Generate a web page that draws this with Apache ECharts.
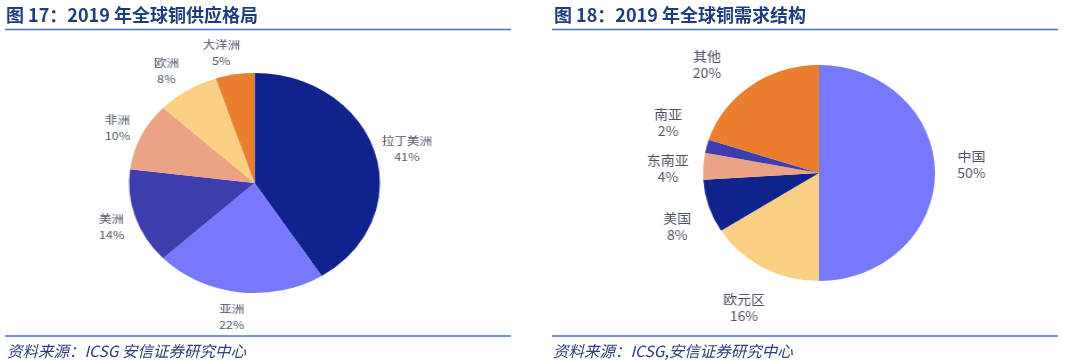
<!DOCTYPE html>
<html>
<head>
<meta charset="utf-8">
<script src="https://cdn.jsdelivr.net/npm/echarts@6/dist/echarts.min.js"></script>
<style>
html,body{margin:0;padding:0;background:#fff;}
#wrap{position:relative;width:1080px;height:363px;overflow:hidden;}
#main{position:absolute;left:0;top:0;width:1080px;height:363px;}
#pieL{position:absolute;left:0;top:0;width:520px;height:363px;transform:scaleX(1.14);transform-origin:254.5px 183px;}
#pieR{position:absolute;left:540px;top:0;width:540px;height:363px;transform:scaleX(1.074);transform-origin:279px 173px;}
</style>
</head>
<body>
<div id="wrap">
  <div id="main"></div>
  <div id="pieL"></div>
  <div id="pieR"></div>
</div>
<script>
// ---- data ----
const supplyTitle = '图 17：2019 年全球铜供应格局';
const demandTitle = '图 18：2019 年全球铜需求结构';
const supplySource = '资料来源：ICSG 安信证券研究中心';
const demandSource = '资料来源：ICSG,安信证券研究中心';
const supplyNames = ['拉丁美洲', '亚洲', '美洲', '非洲', '欧洲', '大洋洲'];
const supplyValues = [41, 22, 14, 10, 8, 5];
const demandNames = ['中国', '欧元区', '美国', '东南亚', '南亚', '其他'];
const demandValues = [50, 16, 8, 4, 2, 20];

// ---- styles ----
const supplyColors = ['#10238c', '#7878fc', '#3d3db0', '#eba386', '#fad184', '#e97e2e'];
const demandColors = ['#7878fc', '#fad184', '#10238c', '#eba386', '#3d3db0', '#e97e2e'];
// small label nudges (px) relative to the library-computed label anchor
const supplyLabelNudge = [[4, 3], [-3, 0], [3, 2], [2, 2], [-5, 2], [-8, 3]];
const demandLabelNudge = [[-3, -8], [0, 7], [6, 9], [4, 5], [0, -14], [-19, 9]];
const FONT = '"Noto Sans CJK SC", "Noto Sans", sans-serif';
const titleColor = '#1f3d7c';
const ruleColor = '#4a72c0';
const srcColor = '#2c3e7a';
const labelColor = '#4a5263';

const main = echarts.init(document.getElementById('main'), null, {renderer: 'canvas'});
function txt(x, y, text, style) {
  return {type: 'text', x: x, y: y, style: Object.assign({text: text, fontFamily: FONT, verticalAlign: 'middle'}, style)};
}
function rule(x1, x2, y) {
  return {type: 'line', shape: {x1: x1, y1: y, x2: x2, y2: y}, style: {stroke: ruleColor, lineWidth: 1.5}};
}
main.setOption({
  animation: false,
  graphic: [
    txt(6, 15, supplyTitle, {fontSize: 18, fontWeight: 'bold', fill: titleColor}),
    txt(554, 15, demandTitle, {fontSize: 18, fontWeight: 'bold', fill: titleColor}),
    rule(5, 511, 29.5), rule(552, 1058, 29.5),
    rule(5, 511, 336), rule(552, 1058, 336),
    txt(7, 351, supplySource, {fontSize: 15.5, fontStyle: 'italic', fill: srcColor}),
    txt(553, 351, demandSource, {fontSize: 15.5, fontStyle: 'italic', fill: srcColor})
  ]
});

function pieOption(names, values, colors, nudge, center, radius, fontSize, lineHeight, len) {
  return {
    animation: false,
    series: [{
      type: 'pie',
      center: center,
      radius: radius,
      startAngle: 90,
      clockwise: true,
      avoidLabelOverlap: false,
      data: names.map((n, i) => ({name: n, value: values[i], itemStyle: {color: colors[i]}})),
      label: {
        show: true,
        position: 'outside',
        formatter: '{b}\n{c}%',
        color: labelColor,
        fontFamily: FONT,
        fontSize: fontSize,
        lineHeight: lineHeight
      },
      labelLine: {show: true, length: len, length2: 0, lineStyle: {opacity: 0, width: 0}},
      labelLayout: function (p) {
        const pts = p.labelLinePoints;
        if (!pts) return {};
        const d = nudge[p.dataIndex] || [0, 0];
        return {x: pts[1][0] + d[0], y: pts[1][1] + d[1], align: 'center', verticalAlign: 'middle'};
      },
      emphasis: {disabled: true}
    }]
  };
}

const pieL = echarts.init(document.getElementById('pieL'));
pieL.setOption(pieOption(supplyNames, supplyValues, supplyColors, supplyLabelNudge, [254.5, 183], 110, 11, 16, 25));
const pieR = echarts.init(document.getElementById('pieR'));
pieR.setOption(pieOption(demandNames, demandValues, demandColors, demandLabelNudge, [279, 173], 108, 13, 17, 37));
</script>
</body>
</html>
